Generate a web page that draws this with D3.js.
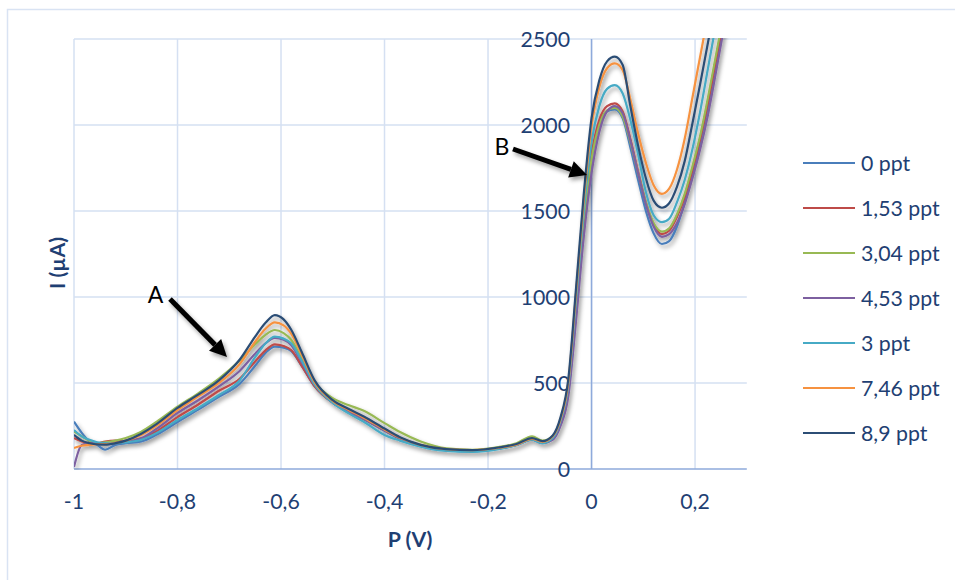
<!DOCTYPE html>
<html><head><meta charset="utf-8">
<script src="https://cdn.jsdelivr.net/npm/d3@7"></script>
<style>
html,body{margin:0;padding:0;background:#fff;}
svg{display:block;font-family:Lato,"Open Sans",sans-serif;}
</style></head>
<body>
<svg id="chart" width="955" height="580"></svg>
<script>
const potentials = [-1.00, -0.985, -0.97, -0.955, -0.94, -0.92, -0.90, -0.87, -0.84, -0.80,
 -0.76, -0.72, -0.68, -0.65, -0.63, -0.612, -0.595, -0.58, -0.56, -0.535,
 -0.50, -0.47, -0.44, -0.40, -0.37, -0.33, -0.28, -0.23, -0.18, -0.145,
 -0.115, -0.095, -0.075, -0.06, -0.045, -0.03, -0.015, 0.00, 0.015, 0.03,
 0.045, 0.06, 0.075, 0.09, 0.105, 0.12, 0.136, 0.15, 0.165, 0.18,
 0.195, 0.21, 0.225, 0.24, 0.255];

const seriesNames = ["0 ppt", "1,53 ppt", "3,04 ppt", "4,53 ppt", "3 ppt", "7,46 ppt", "8,9 ppt"];
const seriesColors = ["#4A7EBB", "#BE4B48", "#98B954", "#7D60A0", "#46AAC5", "#F69240", "#2C4D75"];

const s0ppt = [275, 210, 160, 140, 112, 140, 150, 160, 200, 273,
 345, 420, 495, 600, 675, 712, 705, 685, 600, 480,
 385, 335, 290, 222, 175, 135, 108, 102, 118, 140,
 170, 150, 175, 260, 450, 910, 1420, 1810, 2010, 2080,
 2090, 2040, 1870, 1680, 1500, 1370, 1308, 1325, 1410, 1550,
 1720, 1900, 2110, 2350, 2600];
const s153ppt = [180, 160, 150, 150, 160, 165, 160, 175, 220, 302,
 375, 455, 525, 625, 690, 725, 715, 690, 600, 480,
 385, 335, 290, 225, 178, 138, 110, 105, 120, 142,
 175, 155, 185, 275, 470, 950, 1450, 1830, 2030, 2110,
 2126, 2080, 1920, 1730, 1550, 1420, 1366, 1385, 1465, 1580,
 1740, 1920, 2130, 2370, 2610];
const s304ppt = [217, 190, 165, 150, 155, 165, 180, 217, 275, 362,
 440, 525, 630, 725, 780, 808, 790, 750, 640, 505,
 412, 372, 338, 267, 215, 160, 120, 112, 128, 150,
 190, 165, 190, 280, 470, 960, 1450, 1800, 2000, 2085,
 2099, 2050, 1900, 1720, 1550, 1430, 1380, 1400, 1480, 1600,
 1760, 1940, 2160, 2400, 2640];
const s453ppt = [12, 140, 150, 148, 145, 150, 165, 180, 235, 326,
 400, 480, 570, 670, 730, 762, 752, 720, 620, 490,
 390, 335, 290, 225, 178, 138, 110, 105, 120, 140,
 172, 152, 170, 250, 420, 860, 1350, 1720, 1960, 2080,
 2110, 2070, 1910, 1720, 1540, 1410, 1350, 1365, 1430, 1540,
 1690, 1860, 2060, 2300, 2550];
const s3ppt = [227, 190, 170, 155, 150, 150, 155, 170, 210, 285,
 355, 430, 515, 650, 730, 770, 758, 730, 630, 490,
 385, 325, 275, 198, 165, 130, 105, 100, 115, 138,
 170, 150, 180, 280, 480, 980, 1500, 1900, 2110, 2210,
 2232, 2185, 2030, 1830, 1610, 1475, 1435, 1455, 1550, 1680,
 1860, 2080, 2330, 2580, 2830];
const s746ppt = [122, 135, 140, 145, 145, 152, 165, 198, 252, 343,
 422, 500, 610, 740, 815, 852, 835, 785, 665, 505,
 395, 345, 298, 230, 182, 140, 115, 110, 122, 142,
 175, 158, 190, 290, 500, 1020, 1560, 1990, 2220, 2330,
 2358, 2320, 2150, 1950, 1780, 1650, 1600, 1630, 1740, 1920,
 2160, 2400, 2640, 2880, 3120];
const s89ppt = [198, 165, 150, 143, 142, 150, 165, 205, 262, 355,
 432, 515, 635, 770, 850, 895, 870, 808, 680, 515,
 400, 350, 305, 235, 185, 140, 115, 110, 125, 145,
 180, 162, 195, 300, 520, 1050, 1600, 2040, 2260, 2370,
 2397, 2350, 2110, 1880, 1690, 1560, 1519, 1545, 1640, 1790,
 2010, 2240, 2480, 2720, 2960];

const seriesValues = [s0ppt, s153ppt, s304ppt, s453ppt, s3ppt, s746ppt, s89ppt];
const xTicks = [-1, -0.8, -0.6, -0.4, -0.2, 0, 0.2];
const xTickLabels = ["-1", "-0,8", "-0,6", "-0,4", "-0,2", "0", "0,2"];
const yTicks = [0, 500, 1000, 1500, 2000, 2500];
const yTickLabels = ["0", "500", "1000", "1500", "2000", "2500"];

const svg = d3.select("#chart");
const L = 74, R = 746.8, T = 39, B = 469;
const x = d3.scaleLinear().domain([-1, 0.3]).range([L, R]);
const y = d3.scaleLinear().domain([0, 2500]).range([B, T]);
const textColor = "#1F3F73";
const gridColor = "#D5E0F2";
const axisColor = "#8EAADB";
const fs = 21.3;

// outer border
svg.append("rect").attr("x", 7.5).attr("y", 9.5).attr("width", 1000).attr("height", 1000)
  .attr("fill", "none").attr("stroke", "#D9E3F3").attr("stroke-width", 1.5);

const defs = svg.append("defs");
defs.append("clipPath").attr("id", "clip").append("rect")
  .attr("x", L).attr("y", T - 1).attr("width", R - L).attr("height", B - T + 2);
const f = defs.append("filter").attr("id", "shadow").attr("x", "-10%").attr("y", "-10%").attr("width", "130%").attr("height", "130%");
f.append("feDropShadow").attr("dx", 2).attr("dy", 3).attr("stdDeviation", 2)
  .attr("flood-color", "#000").attr("flood-opacity", 0.38);

// gridlines
const grid = svg.append("g");
grid.selectAll(".vg").data(xTicks).join("line")
  .attr("x1", d => x(d)).attr("x2", d => x(d)).attr("y1", T).attr("y2", B)
  .attr("stroke", gridColor).attr("stroke-width", 1.5);
grid.selectAll(".hg").data(yTicks.slice(1)).join("line")
  .attr("x1", L).attr("x2", R).attr("y1", d => y(d)).attr("y2", d => y(d))
  .attr("stroke", gridColor).attr("stroke-width", 1.5);

// axes lines
svg.append("line").attr("x1", x(0)).attr("x2", x(0)).attr("y1", T).attr("y2", B)
  .attr("stroke", axisColor).attr("stroke-width", 1.5);
svg.append("line").attr("x1", L).attr("x2", R).attr("y1", y(0)).attr("y2", y(0))
  .attr("stroke", axisColor).attr("stroke-width", 1.5);

// tick labels
svg.append("g").selectAll("text").data(xTicks).join("text")
  .attr("x", d => x(d)).attr("y", 501).attr("text-anchor", "middle").attr("dominant-baseline", "central")
  .attr("font-size", fs).attr("fill", textColor).text((d, i) => xTickLabels[i]);
svg.append("g").selectAll("text").data(yTicks).join("text")
  .attr("x", 570).attr("y", d => y(d)).attr("text-anchor", "end").attr("dominant-baseline", "central")
  .attr("font-size", fs).attr("fill", textColor).text((d, i) => yTickLabels[i]);

// axis titles
svg.append("text").attr("transform", "translate(57,263) rotate(-90)")
  .attr("text-anchor", "middle").attr("dominant-baseline", "central")
  .attr("font-size", fs).attr("font-weight", "bold").attr("fill", textColor).text("I (µA)");
svg.append("text").attr("x", 410).attr("y", 539)
  .attr("text-anchor", "middle").attr("dominant-baseline", "central")
  .attr("font-size", fs).attr("font-weight", "bold").attr("fill", textColor).text("P (V)");

// series
const line = d3.line().x((d, i) => x(potentials[i])).y(d => y(d)).curve(d3.curveMonotoneX);
const lines = svg.append("g").attr("clip-path", "url(#clip)").append("g").attr("filter", "url(#shadow)");
lines.selectAll("path").data(seriesValues).join("path")
  .attr("d", d => line(d)).attr("fill", "none")
  .attr("stroke", (d, i) => seriesColors[i]).attr("stroke-width", 2.2)
  .attr("stroke-linejoin", "round");

// legend
const leg = svg.append("g");
seriesNames.forEach((n, i) => {
  const yy = 163 + i * 45;
  leg.append("line").attr("x1", 803).attr("x2", 855).attr("y1", yy).attr("y2", yy)
    .attr("stroke", seriesColors[i]).attr("stroke-width", 2.2);
  leg.append("text").attr("x", 861).attr("y", yy).attr("dominant-baseline", "central")
    .attr("font-size", fs).attr("fill", textColor).text(n);
});

// annotations
const ann = svg.append("g").attr("filter", "url(#shadow)");
function arrow(x1, y1, x2, y2) {
  const ang = Math.atan2(y2 - y1, x2 - x1);
  const hl = 17, hw = 8.5;
  const bx = x2 - hl * Math.cos(ang), by = y2 - hl * Math.sin(ang);
  ann.append("line").attr("x1", x1).attr("y1", y1).attr("x2", bx).attr("y2", by)
    .attr("stroke", "#000").attr("stroke-width", 5);
  const px = -Math.sin(ang), py = Math.cos(ang);
  ann.append("path").attr("d", `M${x2},${y2}L${bx + px * hw},${by + py * hw}L${bx - px * hw},${by - py * hw}Z`)
    .attr("fill", "#000");
}
arrow(170, 299, 227, 357);
arrow(513, 149, 587, 175);
svg.append("text").attr("x", 155.5).attr("y", 294).attr("text-anchor", "middle").attr("dominant-baseline", "central")
  .attr("font-size", 23).attr("fill", "#000").text("A");
svg.append("text").attr("x", 502).attr("y", 146).attr("text-anchor", "middle").attr("dominant-baseline", "central")
  .attr("font-size", 23).attr("fill", "#000").text("B");
</script>
</body></html>
